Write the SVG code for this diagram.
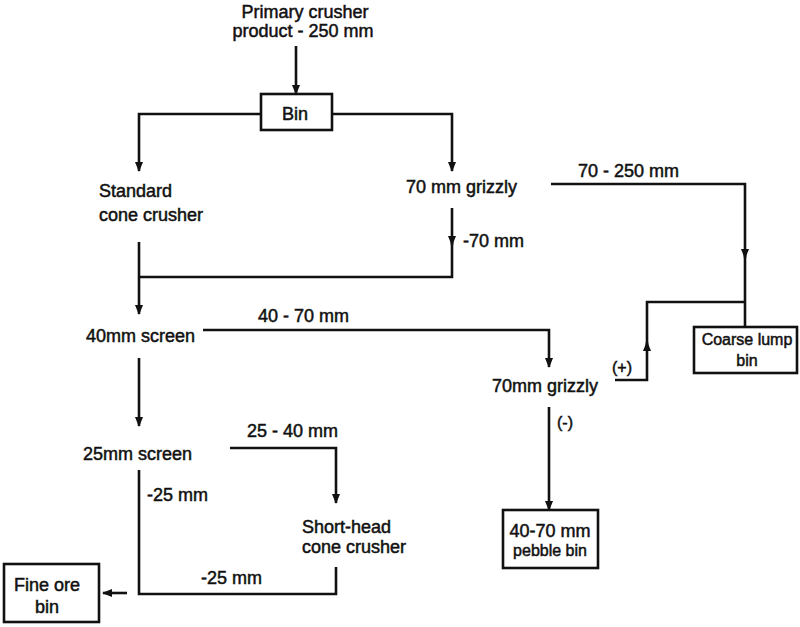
<svg xmlns="http://www.w3.org/2000/svg" width="800" height="627" viewBox="0 0 800 627">
<defs>
<marker id="ah" markerUnits="userSpaceOnUse" markerWidth="10" markerHeight="12" refX="9" refY="4" orient="auto">
<path d="M0,0 L10,4 L0,8 z" fill="#111"/>
</marker>
<style>
text{font-family:"Liberation Sans",Arial,sans-serif;font-size:18px;fill:#111;stroke:#111;stroke-width:0.5;}
.c{text-anchor:middle;}
.s{font-size:16px;}
.ln{fill:none;stroke:#111;stroke-width:2.6;}
.box{fill:#fff;stroke:#111;stroke-width:2.6;}
</style>
</defs>
<rect width="800" height="627" fill="#fff"/>
<g id="connectors">
<path class="ln" d="M296,46 V94" marker-end="url(#ah)"/>
<path class="ln" d="M261,114 H139 V171" marker-end="url(#ah)"/>
<path class="ln" d="M332,114 H452 V171" marker-end="url(#ah)"/>
<path class="ln" d="M452,208 V245" marker-end="url(#ah)"/>
<path class="ln" d="M452,240 V277 H139"/>
<path class="ln" d="M139,242 V314" marker-end="url(#ah)"/>
<path class="ln" d="M203,330 H549 V367" marker-end="url(#ah)"/>
<path class="ln" d="M551,184 H745 V258" marker-end="url(#ah)"/>
<path class="ln" d="M745,252 V327"/>
<path class="ln" d="M615,380 H647 V342" marker-end="url(#ah)"/>
<path class="ln" d="M647,348 V302 H745"/>
<path class="ln" d="M549,407 V510" marker-end="url(#ah)"/>
<path class="ln" d="M139,358 V426" marker-end="url(#ah)"/>
<path class="ln" d="M230,448 H336 V503" marker-end="url(#ah)"/>
<path class="ln" d="M139,470 V594 H336 V567"/>
<path class="ln" d="M127,593 H103" marker-end="url(#ah)"/>
</g>
<g id="labels">
<text x="463" y="247">-70 mm</text>
<text x="578" y="177">70 - 250 mm</text>
<text x="612" y="373" class="s">(+)</text>
<text x="258" y="322">40 - 70 mm</text>
<text x="557" y="428" class="s">(-)</text>
<text x="247" y="437">25 - 40 mm</text>
<text x="147" y="501">-25 mm</text>
<text x="201" y="584">-25 mm</text>
</g>
<g id="primary">
<text class="c" x="305" y="18">Primary crusher</text>
<text class="c" x="303" y="37">product - 250 mm</text>
</g>
<g id="bin">
<rect class="box" x="261" y="94" width="71" height="36"/>
<text class="c" x="295" y="120">Bin</text>
</g>
<g id="standard-cone-crusher">
<text x="99" y="197">Standard</text>
<text x="99" y="221">cone crusher</text>
</g>
<g id="grizzly-70-a">
<text x="406" y="193">70 mm grizzly</text>
</g>
<g id="coarse-lump-bin">
<rect class="box" x="694" y="327" width="103" height="46"/>
<text class="c s" x="747" y="345">Coarse lump</text>
<text class="c s" x="747" y="366">bin</text>
</g>
<g id="screen-40">
<text x="86" y="342">40mm screen</text>
</g>
<g id="grizzly-70-b">
<text x="492" y="392">70mm grizzly</text>
</g>
<g id="pebble-bin">
<rect class="box" x="503" y="510" width="95" height="58"/>
<text class="c" x="550" y="537" font-size="17">40-70 mm</text>
<text class="c s" x="550" y="556">pebble bin</text>
</g>
<g id="screen-25">
<text x="83" y="460">25mm screen</text>
</g>
<g id="short-head-cone-crusher">
<text x="302" y="533">Short-head</text>
<text x="302" y="553">cone crusher</text>
</g>
<g id="fine-ore-bin">
<rect class="box" x="4" y="564" width="95" height="58"/>
<text class="c" x="47" y="591" font-size="17">Fine ore</text>
<text class="c" x="47" y="613" font-size="17">bin</text>
</g>
</svg>
